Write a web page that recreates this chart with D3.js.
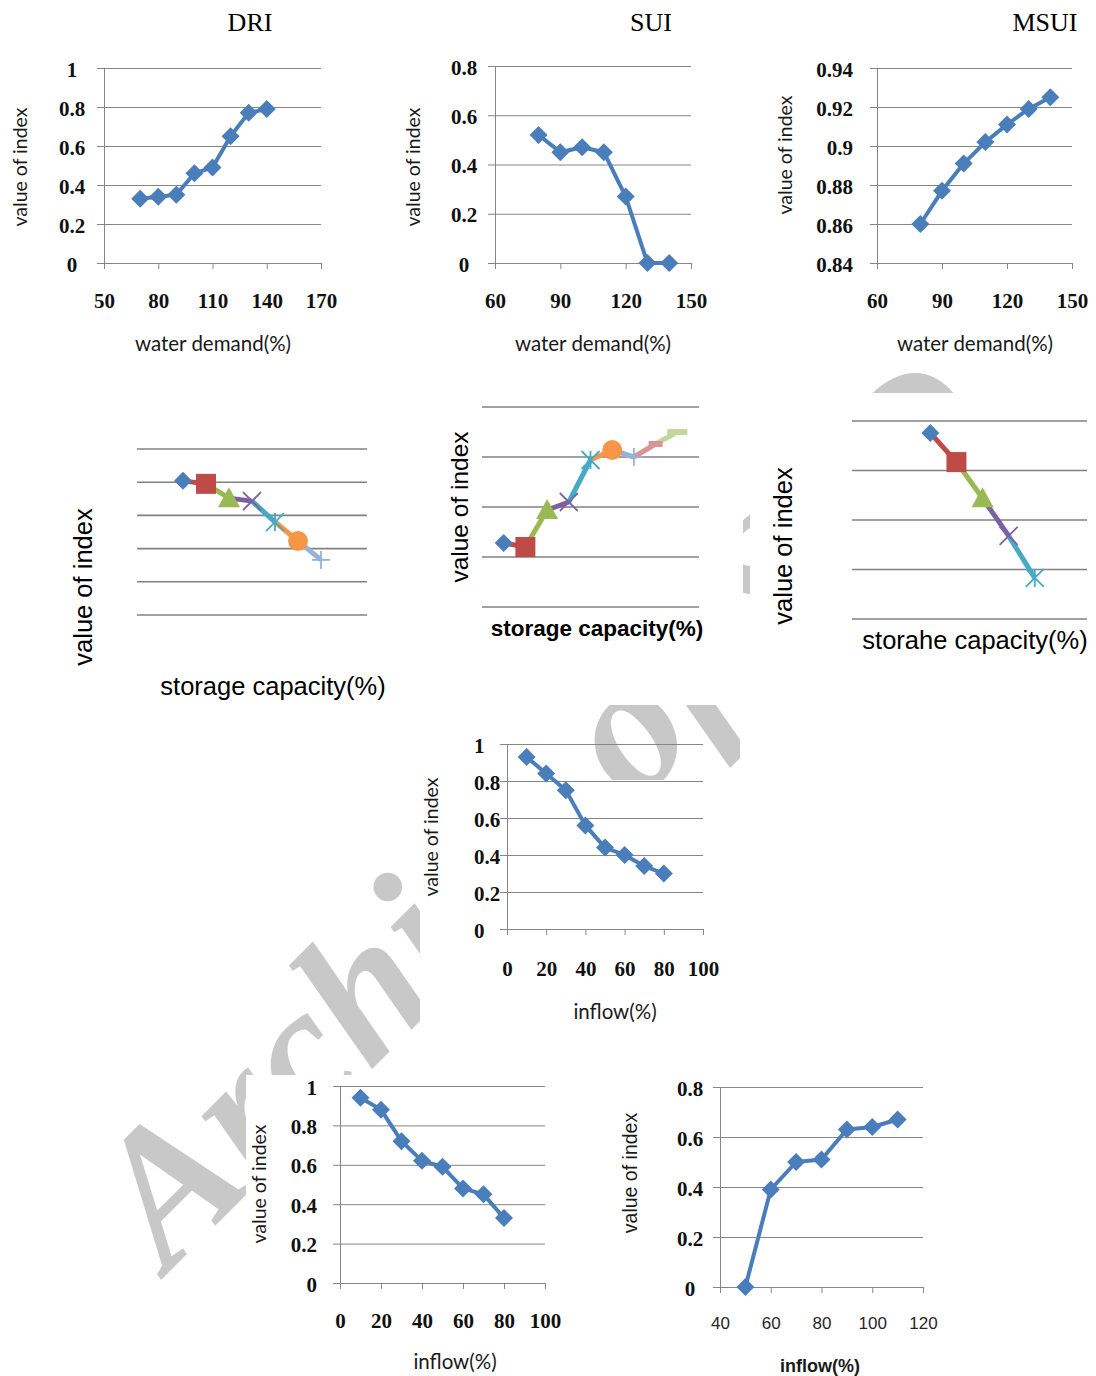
<!DOCTYPE html>
<html>
<head>
<meta charset="utf-8">
<script src="https://cdn.jsdelivr.net/npm/d3@7"></script>
<style>
  body { margin: 0; background: #fff; }
  svg { display: block; }
</style>
</head>
<body>
<svg id="fig" width="1096" height="1376"></svg>
<script>
// ---- data ----
const titles = ["DRI", "SUI", "MSUI"];

const demandDRI = [70, 80, 90, 100, 110, 120, 130, 140];
const indexDRI = [0.33, 0.34, 0.35, 0.46, 0.49, 0.65, 0.77, 0.79];
const demandSUI = [80, 90, 100, 110, 120, 130, 140];
const indexSUI = [0.52, 0.45, 0.47, 0.45, 0.27, 0, 0];
const demandMSUI = [80, 90, 100, 110, 120, 130, 140];
const indexMSUI = [0.86, 0.877, 0.891, 0.902, 0.911, 0.919, 0.925];

// storage charts have no axis values: values in gridline units
const storageStepsDRI = [2, 3, 4, 5, 6, 7, 8];
const storageDRI = [4.04, 3.95, 3.52, 3.43, 2.80, 2.23, 1.66];
const storageStepsSUI = [1, 2, 3, 4, 5, 6, 7, 8, 9];
const storageSUI = [1.28, 1.2, 1.94, 2.1, 2.94, 3.14, 3.0, 3.26, 3.5];
const storageStepsMSUI = [3, 4, 5, 6, 7];
const storageMSUI = [3.76, 3.17, 2.44, 1.68, 0.83];

const inflowA = [10, 20, 30, 40, 50, 60, 70, 80];
const inflowIndexA = [0.93, 0.84, 0.75, 0.56, 0.44, 0.40, 0.34, 0.30];
const inflowB = [10, 20, 30, 40, 50, 60, 70, 80];
const inflowIndexB = [0.94, 0.88, 0.72, 0.62, 0.59, 0.48, 0.45, 0.33];
const inflowC = [50, 60, 70, 80, 90, 100, 110];
const inflowIndexC = [0, 0.39, 0.5, 0.51, 0.63, 0.64, 0.67];

// tick labels
const ticksDemandDRI = [50, 80, 110, 140, 170];
const ticksDemand = [60, 90, 120, 150];
const ticksIndex1 = [0, 0.2, 0.4, 0.6, 0.8, 1];
const ticksIndex08 = [0, 0.2, 0.4, 0.6, 0.8];
const ticksMSUI = [0.84, 0.86, 0.88, 0.9, 0.92, 0.94];
const ticksInflow = [0, 20, 40, 60, 80, 100];
const ticksInflowC = [40, 60, 80, 100, 120];
const gridLevels5 = [0, 1, 2, 3, 4, 5];
const gridLevels4 = [0, 1, 2, 3, 4];

const seriesColors = ["#4A7EBB", "#BE4B48", "#98B954", "#7D60A0", "#46AAC5", "#F79646", "#95B3D7", "#D99694", "#C3D69B"];
const seriesMarkers = ["diamond", "square", "triangle", "x", "star", "circle", "plus", "dash", "longdash"];

const svg = d3.select("#fig");
svg.append("rect").attr("width", 1096).attr("height", 1376).attr("fill", "#fff");

const GRID = "#868686";
const TICKFONT = "'Liberation Serif', serif";
const LABELFONT = "Lato, 'Open Sans', sans-serif";
const ARIAL = "'Liberation Sans', Arial, sans-serif";

// ---- watermark (sits under the pasted chart images) ----
svg.append("text")
    .text("Archive of SID")
    .attr("transform", "translate(168,1273) rotate(-45)")
    .attr("font-family", "'Liberation Serif', serif")
    .attr("font-weight", "bold")
    .attr("font-style", "italic")
    .attr("font-size", 190)
    .attr("fill", "#c8c8c8");

// white backgrounds of the chart images cover parts of the watermark
const imageBoxes = [
    [420, 780, 325, 255],
    [440, 395, 303, 310],
    [750, 393, 346, 267],
    [740, 655, 356, 135],
    [246, 1075, 330, 301],
    [600, 1075, 350, 301]
];
svg.selectAll("rect.img").data(imageBoxes).join("rect")
    .attr("class", "img")
    .attr("x", d => d[0]).attr("y", d => d[1])
    .attr("width", d => d[2]).attr("height", d => d[3])
    .attr("fill", "#fff");

// ---- markers ----
function drawMarker(g, type, cx, cy, color, s) {
    const m = g.append("g").attr("transform", `translate(${cx},${cy})`);
    if (type === "diamond") {
        m.append("path").attr("d", `M0,${-s}L${s},0L0,${s}L${-s},0Z`).attr("fill", color);
    } else if (type === "square") {
        m.append("rect").attr("x", -s).attr("y", -s).attr("width", 2 * s).attr("height", 2 * s).attr("fill", color);
    } else if (type === "triangle") {
        m.append("path").attr("d", `M0,${-s * 1.1}L${s * 1.1},${s * 0.9}L${-s * 1.1},${s * 0.9}Z`).attr("fill", color);
    } else if (type === "circle") {
        m.append("circle").attr("r", s).attr("fill", color);
    } else if (type === "x" || type === "star" || type === "plus") {
        const r = s * 0.9;
        const segs = [];
        if (type !== "plus") segs.push([-r, -r, r, r], [-r, r, r, -r]);
        if (type === "star") segs.push([0, -r, 0, r]);
        if (type === "plus") segs.push([-r, 0, r, 0], [0, -r, 0, r]);
        segs.forEach(p => m.append("line")
            .attr("x1", p[0]).attr("y1", p[1]).attr("x2", p[2]).attr("y2", p[3])
            .attr("stroke", color).attr("stroke-width", 1.8));
    } else if (type === "dash" || type === "longdash") {
        const w = type === "dash" ? s * 1.4 : s * 2;
        m.append("rect").attr("x", -w / 2).attr("y", -3).attr("width", w).attr("height", 6).attr("fill", color);
    }
}

// ---- line charts with axes ----
function scatterPanel(cfg) {
    const g = svg.append("g");
    const x = d3.scaleLinear().domain(cfg.xDomain).range(cfg.xRange);
    const y = d3.scaleLinear().domain(cfg.yDomain).range(cfg.yRange);
    const w = cfg.xRange[1] - cfg.xRange[0];

    // value axis + horizontal gridlines
    const ya = g.append("g")
        .attr("transform", `translate(${cfg.xRange[0]},0)`)
        .call(d3.axisLeft(y).tickValues(cfg.yTicks).tickSizeOuter(0).tickFormat(d => String(d)));
    ya.select(".domain").attr("stroke", GRID);
    ya.selectAll(".tick line").attr("x1", -7).attr("x2", w).attr("stroke", GRID);
    ya.selectAll(".tick text")
        .attr("x", cfg.yLabelX - cfg.xRange[0])
        .attr("dy", null).attr("y", 8)
        .attr("text-anchor", cfg.yLabelAnchor)
        .attr("font-family", TICKFONT).attr("font-weight", "bold")
        .attr("font-size", 21).attr("fill", "#111");

    // category axis
    const xa = g.append("g")
        .attr("transform", `translate(0,${cfg.yRange[0]})`)
        .call(d3.axisBottom(x).tickValues(cfg.xTicks).tickSize(6).tickSizeOuter(0).tickFormat(d => String(d)));
    xa.select(".domain").attr("stroke", GRID);
    xa.selectAll(".tick line").attr("stroke", GRID);
    xa.selectAll(".tick text")
        .attr("dy", null).attr("y", cfg.xTickBase - cfg.yRange[0])
        .attr("font-family", cfg.xTickArial ? ARIAL : TICKFONT)
        .attr("font-weight", cfg.xTickArial ? "normal" : "bold")
        .attr("font-size", cfg.xTickArial ? 17 : 21)
        .attr("fill", cfg.xTickArial ? "#262626" : "#111");

    // series
    const pts = cfg.xs.map((v, i) => [x(v), y(cfg.ys[i])]);
    g.append("path")
        .attr("d", d3.line()(pts))
        .attr("fill", "none").attr("stroke", seriesColors[0])
        .attr("stroke-width", 4).attr("stroke-linejoin", "round");
    pts.forEach(p => drawMarker(g, "diamond", p[0], p[1], seriesColors[0], 9));

    // titles
    g.append("text").text(cfg.xTitle)
        .attr("x", cfg.xTitlePos[0]).attr("y", cfg.xTitlePos[1])
        .attr("text-anchor", "middle")
        .attr("font-family", cfg.xTitleArial ? ARIAL : LABELFONT)
        .attr("font-weight", cfg.xTitleArial ? "bold" : "normal")
        .attr("font-size", cfg.xTitleArial ? 18 : 20.5).attr("fill", "#1a1a1a");
    g.append("text").text("value of index")
        .attr("transform", `translate(${cfg.yTitlePos[0]},${cfg.yTitlePos[1]}) rotate(-90)`)
        .attr("text-anchor", "middle")
        .attr("font-family", cfg.yTitleArial ? ARIAL : LABELFONT)
        .attr("font-size", 19.5).attr("fill", "#1a1a1a");
}

// ---- storage charts: one colour / marker per point ----
function storagePanel(cfg) {
    const g = svg.append("g");
    const x = d3.scaleLinear().domain(cfg.xDomain).range(cfg.xRange);
    const y = d3.scaleLinear().domain([0, cfg.levels[cfg.levels.length - 1]]).range(cfg.yRange);

    g.selectAll("line.grid").data(cfg.levels).join("line")
        .attr("x1", cfg.xRange[0]).attr("x2", cfg.xRange[1])
        .attr("y1", d => y(d)).attr("y2", d => y(d))
        .attr("stroke", "#808080").attr("stroke-width", 1.6);

    const pts = cfg.xs.map((v, i) => [x(v), y(cfg.ys[i])]);
    for (let i = 1; i < pts.length; i++) {
        g.append("line")
            .attr("x1", pts[i - 1][0]).attr("y1", pts[i - 1][1])
            .attr("x2", pts[i][0]).attr("y2", pts[i][1])
            .attr("stroke", seriesColors[i]).attr("stroke-width", 5);
    }
    pts.forEach((p, i) => drawMarker(g, seriesMarkers[i], p[0], p[1], seriesColors[i], i === 0 ? 9 : 10));

    g.append("text").text(cfg.xTitle)
        .attr("x", cfg.xTitlePos[0]).attr("y", cfg.xTitlePos[1])
        .attr("text-anchor", "middle")
        .attr("font-family", ARIAL).attr("font-weight", cfg.bold ? "bold" : "normal")
        .attr("font-size", cfg.xTitleSize).attr("fill", "#000");
    g.append("text").text("value of index")
        .attr("transform", `translate(${cfg.yTitlePos[0]},${cfg.yTitlePos[1]}) rotate(-90)`)
        .attr("text-anchor", "middle")
        .attr("font-family", ARIAL).attr("font-size", cfg.yTitleSize).attr("fill", "#000");
}

// ---- row 1: water demand ----
scatterPanel({
    xs: demandDRI, ys: indexDRI,
    xDomain: [50, 170], xRange: [104, 321], yDomain: [0, 1], yRange: [263, 68],
    xTicks: ticksDemandDRI, yTicks: ticksIndex1,
    yLabelX: 72, yLabelAnchor: "middle", xTickBase: 308,
    xTitle: "water demand(%)", xTitlePos: [213, 351], yTitlePos: [27, 167]
});
scatterPanel({
    xs: demandSUI, ys: indexSUI,
    xDomain: [60, 150], xRange: [495, 691], yDomain: [0, 0.8], yRange: [263, 66],
    xTicks: ticksDemand, yTicks: ticksIndex08,
    yLabelX: 464, yLabelAnchor: "middle", xTickBase: 308,
    xTitle: "water demand(%)", xTitlePos: [593, 351], yTitlePos: [420, 167]
});
scatterPanel({
    xs: demandMSUI, ys: indexMSUI,
    xDomain: [60, 150], xRange: [877, 1072], yDomain: [0.84, 0.94], yRange: [263, 68],
    xTicks: ticksDemand, yTicks: ticksMSUI,
    yLabelX: 853, yLabelAnchor: "end", xTickBase: 308,
    xTitle: "water demand(%)", xTitlePos: [975, 351], yTitlePos: [792, 155]
});
const titleX = [250, 651, 1045];
svg.selectAll("text.title").data(titles).join("text")
    .attr("class", "title")
    .attr("x", (d, i) => titleX[i]).attr("y", 31)
    .attr("text-anchor", "middle")
    .attr("font-family", "'Liberation Serif', serif").attr("font-size", 26)
    .attr("fill", "#000")
    .text(d => d);

// ---- row 2: storage capacity ----
storagePanel({
    xs: storageStepsDRI, ys: storageDRI, levels: gridLevels5,
    xDomain: [0, 10], xRange: [137, 367], yRange: [615, 449],
    xTitle: "storage capacity(%)", xTitlePos: [273, 695], xTitleSize: 25.5,
    yTitlePos: [92, 587], yTitleSize: 25.5
});
storagePanel({
    xs: storageStepsSUI, ys: storageSUI, levels: gridLevels4,
    xDomain: [0, 10], xRange: [482, 699], yRange: [607, 407],
    xTitle: "storage capacity(%)", xTitlePos: [597, 636], xTitleSize: 22.5, bold: true,
    yTitlePos: [468, 507], yTitleSize: 24.5
});
storagePanel({
    xs: storageStepsMSUI, ys: storageMSUI, levels: gridLevels4,
    xDomain: [0, 9], xRange: [852, 1087], yRange: [619, 421],
    xTitle: "storahe capacity(%)", xTitlePos: [975, 649], xTitleSize: 25.5,
    yTitlePos: [792, 546], yTitleSize: 25.5
});

// ---- rows 3-4: inflow ----
scatterPanel({
    xs: inflowA, ys: inflowIndexA,
    xDomain: [0, 100], xRange: [507, 703], yDomain: [0, 1], yRange: [929, 744],
    xTicks: ticksInflow, yTicks: ticksIndex1,
    yLabelX: 474, yLabelAnchor: "start", xTickBase: 976,
    xTitle: "inflow(%)", xTitlePos: [615, 1019], yTitlePos: [438, 837]
});
scatterPanel({
    xs: inflowB, ys: inflowIndexB,
    xDomain: [0, 100], xRange: [340, 545], yDomain: [0, 1], yRange: [1283, 1086],
    xTicks: ticksInflow, yTicks: ticksIndex1,
    yLabelX: 317, yLabelAnchor: "end", xTickBase: 1328,
    xTitle: "inflow(%)", xTitlePos: [455, 1369], yTitlePos: [266, 1184]
});
scatterPanel({
    xs: inflowC, ys: inflowIndexC,
    xDomain: [40, 120], xRange: [720, 923], yDomain: [0, 0.8], yRange: [1287, 1087],
    xTicks: ticksInflowC, yTicks: ticksIndex08,
    yLabelX: 690, yLabelAnchor: "middle", xTickBase: 1329, xTickArial: true,
    xTitle: "inflow(%)", xTitlePos: [820, 1372], xTitleArial: true,
    yTitlePos: [637, 1173], yTitleArial: true
});
</script>
</body>
</html>
